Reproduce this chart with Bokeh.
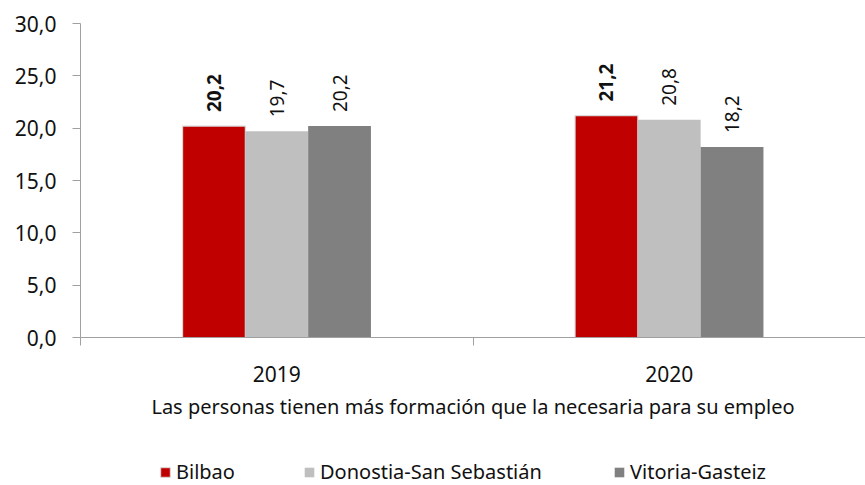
import math
from bokeh.plotting import figure
from bokeh.layouts import column
from bokeh.models import Range1d, FixedTicker, Legend, LegendItem, ColumnDataSource
from bokeh.core.properties import value
from bokeh.embed import file_html
from bokeh.resources import INLINE

years = ["2019", "2020"]
cities = ["Bilbao", "Donostia-San Sebastián", "Vitoria-Gasteiz"]
bilbao = [20.2, 21.2]
donostia = [19.7, 20.8]
vitoria = [20.2, 18.2]
colors = ["#C00000", "#BFBFBF", "#808080"]
outline = ["#D9D9D9", None, None]
y_ticks = [0, 5, 10, 15, 20, 25, 30]
axis_title = "Las personas tienen más formación que la necesaria para su empleo"

FONT = "Noto Sans"
AXIS_COLOR = "#A0A0A0"
TEXT_COLOR = "#111111"
W = 865
LEFT = 80

p = figure(width=W, height=445, output_backend="svg", toolbar_location=None,
           x_range=Range1d(0, len(years)), y_range=Range1d(0, 30),
           min_border_left=LEFT, min_border_right=0, min_border_top=23, min_border_bottom=108)
p.outline_line_color = None
p.grid.grid_line_color = None

bar_w = 0.16
series = [bilbao, donostia, vitoria]
for j, vals in enumerate(series):
    xs = [i + 0.5 + (j - 1) * bar_w for i in range(len(years))]
    src = ColumnDataSource(dict(x=xs, top=vals,
                                lab=[f"{v:.1f}".replace(".", ",") for v in vals]))
    p.vbar(x="x", top="top", bottom=0, width=bar_w, source=src,
           fill_color=colors[j], line_color=outline[j],
           line_width=1.2 if outline[j] else 0)
    p.text(x="x", y="top", text="lab", source=src, angle=math.pi / 2,
           text_align="left", text_baseline="middle", y_offset=-14,
           text_font=value(FONT), text_font_size="19px", text_color=TEXT_COLOR,
           text_font_style="bold" if j == 0 else "normal")

# y axis
ya = p.yaxis[0]
ya.ticker = FixedTicker(ticks=y_ticks, minor_ticks=[])
ya.major_label_overrides = {t: f"{t:.1f}".replace(".", ",") for t in y_ticks}
ya.major_label_text_font = FONT
ya.major_label_text_font_size = "21px"
ya.major_label_text_color = TEXT_COLOR
ya.axis_line_color = AXIS_COLOR
ya.major_tick_line_color = AXIS_COLOR
ya.major_tick_out = 8
ya.major_tick_in = 0
ya.major_label_standoff = 16

# x axis
xa = p.xaxis[0]
xa.ticker = FixedTicker(ticks=[i + 0.5 for i in range(len(years))],
                        minor_ticks=list(range(len(years) + 1)))
xa.major_label_overrides = {i + 0.5: y for i, y in enumerate(years)}
xa.major_label_text_font = FONT
xa.major_label_text_font_size = "21px"
xa.major_label_text_color = TEXT_COLOR
xa.major_tick_line_color = None
xa.major_tick_out = 0
xa.major_tick_in = 0
xa.minor_tick_line_color = AXIS_COLOR
xa.minor_tick_out = 8
xa.minor_tick_in = 0
xa.axis_line_color = AXIS_COLOR
xa.major_label_standoff = 20
xa.axis_label = axis_title
xa.axis_label_text_font = FONT
xa.axis_label_text_font_size = "20px"
xa.axis_label_text_font_style = "normal"
xa.axis_label_text_color = TEXT_COLOR
xa.axis_label_standoff = 8

# legend strip
lp = figure(width=W, height=40, output_backend="svg", toolbar_location=None,
            x_range=Range1d(0, 1), y_range=Range1d(0, 1),
            min_border=0, min_border_left=0, min_border_right=0,
            min_border_top=0, min_border_bottom=0)
lp.axis.visible = False
lp.grid.visible = False
lp.outline_line_color = None
leg_x = [159, 303, 613]
for j, name in enumerate(cities):
    dummy = lp.vbar(x=[0], top=[0], bottom=[0], width=0, fill_color=colors[j],
                    line_color="#D9D9D9" if j == 0 else None,
                    line_width=1 if j == 0 else 0)
    lg = Legend(items=[LegendItem(label=name, renderers=[dummy])],
                location=(leg_x[j] - LEFT, 0), orientation="horizontal",
                padding=0, margin=0, glyph_height=12, glyph_width=12,
                label_height=20, label_standoff=5,
                label_text_font=FONT, label_text_font_size="20px",
                label_text_color=TEXT_COLOR, border_line_color=None,
                background_fill_alpha=0)
    lp.add_layout(lg, "center")

layout = column(p, lp, spacing=0)
open("out.html", "w").write(file_html(layout, INLINE))
